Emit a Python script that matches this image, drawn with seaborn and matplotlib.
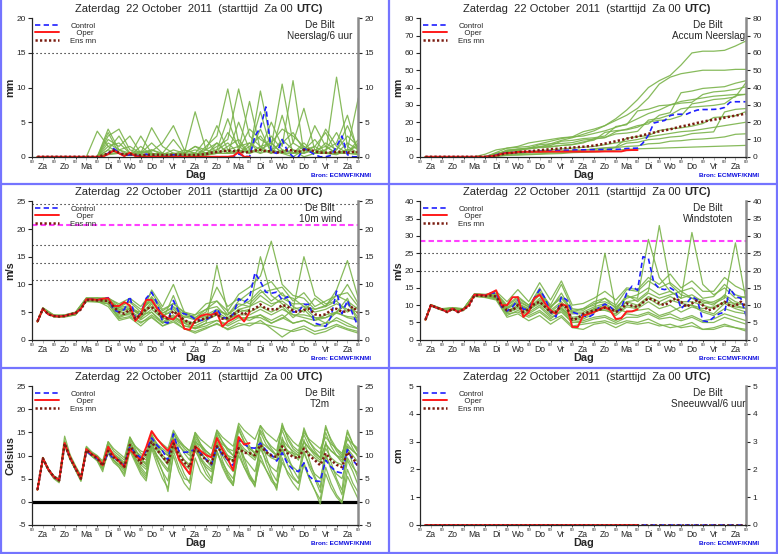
import numpy as np
import pandas as pd
import matplotlib
matplotlib.use("Agg")
import matplotlib.pyplot as plt
from matplotlib.lines import Line2D
import seaborn as sns

# ---------------- time axes (hours after Za 00 UTC) ----------------
HOURS_6 = np.arange(6, 361, 6)                                  # 60 six-hourly steps
HOURS_MEM = np.concatenate([[6], np.arange(12, 361, 12)])       # member sampling (31)
HOURS_OPER = HOURS_6[:40]                                       # operational run: 10 days
DAY_BOUNDS = np.arange(0, 361, 24)
DAY_MIDS = np.arange(12, 360, 24)
day_names = ["Za", "Zo", "Ma", "Di", "Wo", "Do", "Vr", "Za", "Zo", "Ma", "Di", "Wo", "Do", "Vr", "Za"]

# ---------------- Neerslag / 6 uur (mm) ----------------
precip_ctrl = [0, 0, 0, 0, 0, 0, 0, 0, 0, 0, 0, 0, 0,
               0.5, 1.2, 0.6, 0.1, 0.3, 0.2, 0.1, 0.4, 0.1, 0.0, 0.0, 0.1, 0.3, 0.1,
               0, 0, 0, 0, 0, 0, 0, 0, 0, 0,
               0.4, 0.1, 0.0, 3.0, 4.2, 7.2, 0.7, 0.5, 2.5, 0.8, 0.0, 0.0, 1.2, 0.8, 0.3,
               0.0, 0.0, 0.2, 1.5, 3.0, 0.3, 0.0, 0.0]
precip_oper = [0, 0, 0, 0, 0, 0, 0, 0, 0, 0, 0, 0, 0,
               0.4, 0.9, 0.5, 0.1, 0.6, 0.1,
               0, 0, 0, 0, 0, 0, 0, 0, 0, 0, 0, 0, 0, 0, 0, 0, 0,
               0.1, 0.7, 0.0, 0.0]
precip_mean = [0, 0, 0, 0, 0, 0, 0, 0, 0, 0, 0, 0,
               0.2, 0.5, 0.9, 0.6, 0.3, 0.4, 0.3, 0.2, 0.3, 0.3, 0.3, 0.25,
               0.25, 0.3, 0.3, 0.3, 0.25, 0.25, 0.3, 0.4, 0.6, 0.7, 0.8, 0.9,
               0.8, 0.9, 0.6, 0.7, 0.9, 1.0, 0.8, 0.8, 0.6, 0.7, 1.0, 0.9,
               0.7, 1.0, 1.0, 0.8, 0.6, 0.6, 0.6, 0.7, 0.7, 0.6, 0.7, 0.7]
precip_members = [
    [0, 0, 0, 0, 0, 0, 3.7, 1.5, 0.5, 0.2, 0.5, 1.0, 0.3, 0, 0, 0, 1.5, 3.0, 9.8, 2.0, 0.5, 1.0, 0.5, 2.5, 1.0, 0, 0.5, 2.0, 1.0, 3.0, 1.5],
    [0, 0, 0, 0, 0, 0, 0, 3.0, 4.0, 1.0, 0.5, 4.2, 1.5, 0.5, 0.3, 0.5, 0.5, 1.5, 2.5, 9.8, 3.0, 1.5, 2.0, 0.5, 0, 1.0, 2.5, 0.5, 0.3, 1.0, 0.5],
    [0, 0, 0, 0, 0, 0, 0, 2.5, 1.5, 3.0, 0.5, 0.8, 2.0, 4.5, 1.0, 0.5, 0.3, 0.5, 1.0, 1.5, 0.5, 9.5, 2.0, 4.0, 3.0, 1.5, 0.5, 1.0, 3.5, 0.5, 2.0],
    [0, 0, 0, 0, 0, 0, 0, 1.0, 0.5, 0.3, 0.2, 0.5, 0.2, 0.5, 0.5, 6.5, 1.0, 2.0, 0.5, 1.0, 4.0, 2.5, 1.5, 10.5, 2.0, 1.0, 0.5, 4.0, 1.5, 0.5, 0.3],
    [0, 0, 0, 0, 0, 0, 0, 4.0, 1.0, 0.2, 1.5, 0.3, 0.5, 0.2, 0.2, 0.5, 2.5, 0.5, 3.5, 1.5, 2.0, 1.0, 5.0, 1.5, 11.0, 0.5, 1.5, 0.5, 0.5, 2.0, 1.0],
    [0, 0, 0, 0, 0, 0, 0, 1.5, 2.0, 0.5, 0.8, 0.5, 0.3, 1.0, 0.5, 1.5, 1.0, 4.5, 1.0, 0.5, 1.5, 3.0, 1.0, 0.5, 2.0, 7.0, 1.0, 1.5, 0.5, 1.0, 8.5],
    [0, 0, 0, 0, 0, 0, 0, 0.5, 0.5, 0.2, 0.3, 0.2, 0.5, 0.2, 0.3, 0.2, 0.5, 0.5, 1.5, 2.5, 0.5, 1.5, 0.5, 1.0, 0.5, 1.5, 0.5, 0.5, 11.5, 1.5, 0.5],
    [0, 0, 0, 0, 0, 0, 0, 2.0, 1.0, 1.5, 0.5, 1.0, 0.5, 2.5, 0.5, 1.0, 0.5, 1.0, 5.5, 1.0, 8.0, 1.0, 2.0, 0.5, 1.0, 0.5, 4.5, 1.5, 0.5, 1.0, 1.5],
    [0, 0, 0, 0, 0, 0, 0, 3.5, 0.5, 0.2, 3.0, 0.5, 0.2, 0.3, 1.0, 0.5, 0.3, 2.0, 0.5, 1.0, 0.5, 4.0, 0.5, 6.0, 0.5, 2.0, 0.5, 1.0, 2.0, 6.0, 0.5],
    [0, 0, 0, 0, 0, 0, 0, 0.5, 1.0, 0.5, 0.2, 0.2, 0.3, 0.5, 0.2, 0.3, 1.0, 0.5, 0.5, 5.0, 1.0, 0.5, 3.0, 1.0, 0.5, 1.0, 1.5, 3.5, 0.5, 0.5, 2.5],
    [0, 0, 0, 0, 0, 0, 0, 1.0, 3.0, 0.5, 0.5, 2.0, 0.5, 0.2, 0.5, 1.5, 0.5, 1.0, 2.0, 0.5, 1.0, 6.5, 1.0, 2.0, 3.5, 1.0, 0.5, 0.5, 1.0, 4.5, 1.0],
    [0, 0, 0, 0, 0, 0, 0, 0.3, 0.5, 0.2, 0.2, 0.3, 0.2, 0.2, 0.5, 0.2, 0.2, 0.5, 0.5, 0.5, 2.0, 0.5, 1.0, 0.5, 0.5, 0.5, 1.0, 0.5, 0.5, 0.5, 0.5],
]

# ---------------- Accum Neerslag (mm) ----------------
accum_ctrl = [0, 0, 0, 0, 0, 0, 0, 0, 0, 0, 0, 0,
              0.3, 1.0, 2.0, 2.3, 2.4, 2.7, 2.8, 2.9, 3.1, 3.2, 3.3, 3.4,
              3.5, 3.7, 3.8, 3.9, 4.0, 4.0, 4.1, 4.1, 4.2, 4.2, 4.3, 4.3,
              4.4, 4.8, 4.9, 5.0, 8.0, 12.5, 19.5, 20.3, 21.0, 23.8, 24.5, 24.6,
              24.6, 26.0, 27.0, 27.3, 27.3, 27.4, 27.6, 28.5, 31.5, 31.8, 31.8, 31.8]
accum_oper = [0, 0, 0, 0, 0, 0, 0, 0, 0, 0, 0, 0,
              0.3, 0.8, 1.7, 2.2, 2.3, 2.8, 2.9, 2.9, 2.9, 2.9, 3.0, 3.0,
              3.0, 3.0, 3.0, 3.0, 3.0, 3.0, 3.0, 3.0, 3.0, 3.1, 3.1, 3.1,
              3.1, 3.8, 3.9, 3.9]
accum_mean = [0, 0, 0, 0, 0, 0, 0, 0, 0, 0, 0, 0,
              0.2, 0.6, 1.5, 2.1, 2.3, 2.7, 3.0, 3.2, 3.5, 3.8, 4.1, 4.4,
              4.6, 4.9, 5.1, 5.3, 5.6, 5.8, 6.1, 6.5, 7.0, 7.6, 8.3, 9.0,
              9.7, 10.5, 11.1, 11.7, 12.5, 13.3, 14.0, 14.7, 15.3, 15.9, 16.7, 17.5,
              18.1, 18.8, 19.6, 20.3, 20.9, 21.4, 22.0, 22.6, 23.2, 23.8, 24.4, 25.0]
accum_members = [
    [0, 0, 0, 0, 0, 0, 0, 1.5, 3.5, 4.0, 4.5, 5.5, 7.5, 9.5, 11.0, 13.0, 15.0, 18.0, 22.0, 27.0, 33.0, 40.0, 44.0, 47.0, 53.0, 60.0, 61.0, 61.0, 61.5, 64.0, 67.0],
    [0, 0, 0, 0, 0, 0, 0, 2.5, 5.0, 5.5, 6.0, 7.5, 9.0, 10.5, 11.5, 14.5, 16.0, 18.0, 21.0, 24.0, 28.0, 34.0, 42.0, 46.0, 48.0, 49.0, 50.0, 50.0, 50.0, 50.5, 50.5],
    [0, 0, 0, 0, 0, 0, 1.5, 4.0, 5.0, 6.0, 8.0, 9.0, 10.0, 11.0, 11.5, 12.0, 13.5, 15.0, 17.0, 19.0, 22.0, 25.0, 27.0, 30.0, 32.0, 33.0, 34.0, 35.0, 35.5, 36.0, 36.0],
    [0, 0, 0, 0, 0, 0, 0, 1.0, 2.0, 2.5, 3.0, 3.5, 4.0, 4.5, 5.0, 5.5, 6.0, 7.0, 8.0, 9.0, 10.0, 11.5, 12.5, 13.5, 14.5, 15.0, 16.0, 17.0, 18.0, 19.0, 20.0],
    [0, 0, 0, 0, 0, 0, 0, 2.0, 3.0, 3.5, 5.0, 5.5, 6.0, 6.5, 7.0, 8.0, 10.5, 11.0, 14.5, 16.0, 18.0, 19.0, 24.0, 25.5, 37.0, 38.0, 39.5, 40.0, 40.5, 42.5, 44.0],
    [0, 0, 0, 0, 0, 0, 0, 1.5, 3.5, 4.0, 4.8, 5.3, 5.6, 6.6, 7.1, 8.6, 9.6, 14.1, 15.1, 15.6, 17.1, 20.1, 21.1, 21.6, 23.6, 30.6, 31.6, 33.1, 33.6, 34.6, 43.1],
    [0, 0, 0, 0, 0, 0, 0, 0.5, 1.0, 1.2, 1.5, 1.7, 2.2, 2.4, 2.7, 2.9, 3.4, 3.9, 5.4, 7.9, 8.4, 9.9, 10.4, 11.4, 11.9, 13.4, 13.9, 14.4, 25.9, 27.4, 27.9],
    [0, 0, 0, 0, 0, 0, 0, 2.0, 3.0, 4.5, 5.0, 6.0, 6.5, 9.0, 9.5, 10.5, 11.0, 12.0, 17.5, 18.5, 26.5, 27.5, 29.5, 30.0, 31.0, 31.5, 36.0, 37.5, 38.0, 39.0, 40.5],
    [0, 0, 0, 0, 0, 0, 0, 1.0, 1.5, 1.7, 2.5, 2.8, 3.0, 3.3, 3.8, 4.0, 4.2, 5.0, 5.3, 6.0, 6.3, 7.5, 7.8, 9.0, 9.3, 10.0, 10.3, 10.8, 11.5, 13.0, 13.3],
    [0, 0, 0, 0, 0, 0, 0, 0.5, 1.5, 2.0, 2.2, 2.4, 2.7, 3.2, 3.4, 3.7, 4.7, 5.2, 5.7, 10.7, 11.7, 12.2, 15.2, 16.2, 16.7, 17.7, 19.2, 22.7, 23.2, 23.7, 26.2],
    [0, 0, 0, 0, 0, 0, 0, 1.0, 4.0, 4.5, 5.0, 7.0, 7.5, 7.7, 8.2, 9.7, 10.2, 11.2, 13.2, 13.7, 14.7, 21.2, 22.2, 24.2, 27.7, 28.7, 29.2, 29.7, 30.7, 35.2, 36.2],
    [0, 0, 0, 0, 0, 0, 0, 0.3, 0.8, 1.0, 1.2, 1.5, 1.7, 1.9, 2.4, 2.6, 2.8, 3.3, 3.8, 4.3, 4.6, 4.8, 5.0, 5.2, 5.4, 5.6, 5.8, 6.0, 6.2, 6.4, 6.6],
]

# ---------------- 10m wind (m/s) ----------------
wind_ctrl = [3.3, 5.6, 4.6, 4.3, 4.2, 4.3, 4.6, 4.8, 5.6, 7.3, 7.3, 7.2,
             7.4, 7.6, 5.4, 5.0, 5.5, 7.8, 3.8, 4.8, 7.5, 8.6, 6.6, 3.3,
             3.0, 7.1, 5.0, 4.7, 4.4, 3.7, 3.5, 3.6, 4.2, 5.6, 4.0, 3.9,
             4.6, 7.4, 6.8, 7.6, 12.1, 10.5, 8.6, 8.4, 8.6, 7.2, 7.8, 5.0,
             5.1, 6.4, 6.4, 3.0, 2.7, 2.4, 4.2, 8.8, 4.7, 7.1, 4.6, 2.3]
wind_oper = [3.3, 5.6, 4.6, 4.3, 4.2, 4.3, 4.6, 4.8, 5.6, 7.3, 7.3, 7.2,
             7.4, 7.5, 6.1, 6.1, 6.8, 6.2, 3.4, 4.6, 7.2, 7.2, 5.6, 4.5,
             3.9, 3.7, 4.8, 2.0, 1.8, 3.5, 4.3, 4.6, 4.5, 4.9, 2.4, 3.3,
             3.8, 4.4, 3.3, 5.0]
wind_mean = [3.3, 5.6, 4.6, 4.3, 4.2, 4.3, 4.6, 4.8, 5.5, 7.2, 7.2, 7.1,
             7.1, 7.0, 6.0, 5.0, 4.7, 5.5, 3.8, 4.5, 5.6, 5.9, 5.0, 4.2,
             3.8, 5.2, 4.3, 3.6, 3.0, 3.2, 3.6, 3.9, 4.2, 4.7, 3.8, 3.9,
             4.5, 5.2, 4.5, 5.3, 5.6, 6.4, 5.6, 5.5, 5.5, 6.3, 6.0, 5.2,
             5.0, 5.4, 5.6, 4.6, 4.4, 4.6, 5.4, 5.6, 5.0, 5.2, 6.0, 4.8]
wind_thresholds = [10.8, 13.9, 17.2, 24.5]
wind_alarm = 20.8
wind_members = [
    [3.3, 5.5, 4.4, 4.2, 4.7, 7.1, 7.5, 7.6, 6.2, 6.8, 5.0, 7.8, 5.2, 6.6, 4.8, 4.0, 5.5, 7.0, 5.2, 8.2, 9.5, 11.5, 17.8, 10.0, 8.0, 7.5, 5.5, 6.2, 8.0, 7.0, 5.5],
    [3.2, 5.7, 4.2, 4.4, 4.9, 7.5, 7.0, 6.5, 4.2, 5.0, 3.6, 5.0, 3.2, 4.5, 2.5, 2.0, 3.0, 13.5, 5.0, 4.0, 3.5, 4.5, 3.0, 3.8, 5.5, 6.0, 4.0, 3.0, 5.0, 4.0, 3.5],
    [3.3, 5.6, 4.3, 4.3, 4.8, 7.4, 7.3, 7.0, 5.5, 6.0, 4.2, 9.0, 6.0, 10.0, 5.0, 4.5, 6.5, 7.0, 4.5, 6.0, 7.0, 9.0, 7.0, 8.5, 6.0, 5.0, 7.5, 6.0, 9.0, 14.3, 7.5],
    [3.4, 5.5, 4.1, 4.2, 4.5, 7.0, 7.1, 6.8, 4.5, 4.5, 3.2, 4.0, 2.5, 3.5, 2.0, 1.5, 2.2, 2.8, 2.0, 3.0, 2.5, 3.5, 2.0, 0.5, 1.8, 2.5, 1.5, 2.0, 2.8, 2.0, 1.5],
    [3.3, 5.8, 4.5, 4.5, 5.0, 7.6, 7.6, 7.4, 5.8, 7.0, 5.5, 7.0, 4.8, 5.8, 4.0, 4.5, 5.5, 6.0, 4.0, 5.5, 6.0, 8.0, 6.5, 7.0, 5.5, 15.0, 8.0, 6.5, 7.0, 5.0, 6.0],
    [3.2, 5.6, 4.2, 4.3, 4.8, 7.2, 7.0, 7.2, 4.8, 5.2, 4.0, 5.5, 3.8, 4.0, 3.0, 2.5, 3.5, 4.5, 3.5, 5.0, 5.5, 15.0, 8.0, 6.5, 4.5, 4.0, 3.5, 4.5, 5.0, 6.5, 4.0],
    [3.3, 5.6, 4.3, 4.2, 4.7, 7.3, 7.3, 7.0, 5.0, 5.8, 4.6, 6.0, 4.2, 5.5, 3.5, 3.0, 4.0, 5.0, 3.8, 4.5, 4.5, 5.5, 4.5, 5.5, 4.5, 4.5, 4.0, 4.0, 4.8, 4.2, 4.0],
    [3.3, 5.5, 4.3, 4.4, 4.7, 7.0, 6.9, 6.5, 4.0, 4.8, 3.8, 6.5, 3.5, 8.0, 3.0, 2.0, 2.5, 3.5, 2.8, 4.0, 4.0, 4.0, 3.0, 4.0, 3.0, 3.5, 2.5, 3.0, 3.5, 2.5, 2.0],
    [3.4, 5.7, 4.4, 4.3, 4.9, 7.5, 7.4, 7.3, 5.5, 5.5, 5.0, 7.5, 4.5, 5.0, 4.2, 3.6, 4.5, 5.5, 4.5, 6.5, 6.0, 7.0, 6.0, 7.5, 6.5, 6.5, 5.0, 5.5, 6.5, 5.5, 5.0],
    [3.3, 5.6, 4.3, 4.4, 4.8, 7.3, 7.2, 6.9, 5.2, 5.5, 4.5, 5.0, 3.0, 4.2, 3.2, 3.0, 3.8, 4.5, 3.5, 5.5, 5.0, 6.0, 5.0, 6.0, 4.0, 5.5, 3.5, 4.0, 5.0, 7.5, 3.0],
    [3.2, 5.4, 4.2, 4.1, 4.5, 6.9, 6.8, 6.5, 3.8, 4.2, 3.0, 4.5, 3.0, 3.8, 2.5, 2.2, 3.0, 3.5, 2.5, 3.5, 4.0, 4.5, 3.5, 4.5, 3.0, 3.5, 2.5, 2.5, 4.0, 3.0, 2.0],
    [3.4, 5.7, 4.4, 4.3, 4.9, 7.4, 7.5, 7.2, 5.8, 6.2, 4.5, 6.8, 4.8, 6.0, 4.5, 3.8, 4.2, 5.2, 4.5, 7.0, 8.5, 9.5, 10.5, 8.0, 7.5, 6.0, 5.5, 6.0, 7.0, 10.0, 6.5],
    [3.3, 5.6, 4.3, 4.3, 4.7, 7.2, 7.2, 7.5, 6.5, 7.5, 6.0, 8.5, 5.5, 6.5, 5.0, 4.0, 5.0, 9.5, 6.0, 7.5, 6.5, 8.5, 9.0, 9.5, 7.0, 8.5, 6.0, 7.0, 8.0, 8.5, 6.0],
    [3.3, 5.5, 4.2, 4.2, 4.6, 7.1, 7.0, 6.0, 3.5, 4.0, 2.5, 4.2, 2.5, 3.2, 2.0, 1.2, 2.0, 3.0, 1.8, 2.5, 3.0, 3.0, 2.5, 2.0, 1.5, 2.0, 1.0, 1.5, 2.5, 1.8, 1.2],
]

# ---------------- Windstoten (m/s) ----------------
gust_ctrl = [5.8, 10.0, 9.3, 8.8, 8.0, 9.0, 8.0, 8.8, 10.0, 13.0, 13.0, 12.8,
             13.5, 13.5, 9.5, 8.3, 9.5, 11.5, 8.8, 9.0, 12.0, 14.5, 12.0, 8.0,
             6.6, 12.5, 11.5, 8.0, 7.5, 7.0, 6.5, 7.5, 9.5, 10.3, 9.5, 8.0,
             9.0, 13.5, 15.5, 14.3, 24.0, 23.5, 16.5, 14.8, 14.5, 15.0, 14.0, 9.0,
             10.5, 12.5, 11.5, 5.5, 5.2, 6.5, 7.5, 8.0, 14.8, 12.5, 12.0, 6.8]
gust_oper = [5.8, 10.0, 9.3, 8.8, 8.0, 9.0, 8.0, 8.8, 10.0, 13.0, 13.0, 12.8,
             13.5, 14.3, 10.0, 10.0, 12.3, 12.3, 6.6, 8.0, 12.0, 13.0, 10.5, 8.5,
             7.5, 10.3, 9.8, 3.7, 3.7, 7.0, 7.5, 8.0, 8.8, 9.5, 8.5, 6.0,
             6.2, 8.2, 8.2, 8.8]
gust_mean = [5.8, 10.0, 9.3, 8.8, 8.0, 9.0, 8.0, 8.8, 9.8, 12.8, 12.8, 12.6,
             12.8, 12.5, 10.0, 8.5, 8.5, 10.0, 8.0, 8.8, 10.3, 11.0, 9.5, 8.0,
             8.0, 10.0, 9.3, 5.8, 6.2, 7.5, 8.0, 8.5, 8.7, 9.3, 9.0, 8.0,
             8.8, 10.5, 9.8, 9.5, 10.8, 12.0, 11.5, 10.5, 10.0, 11.0, 12.0, 11.0,
             9.5, 10.5, 11.5, 10.0, 8.5, 9.0, 10.0, 11.0, 9.8, 9.8, 11.0, 9.5]
gust_thresholds = [20.0, 25.0]
gust_alarm = 28.5
gust_members = [
    [5.9, 10.2, 9.0, 9.3, 9.0, 13.2, 12.5, 13.0, 9.0, 11.0, 9.5, 13.0, 9.5, 12.0, 8.0, 9.0, 10.0, 12.0, 9.0, 12.5, 12.0, 29.0, 18.0, 14.0, 12.0, 13.0, 11.0, 10.0, 13.0, 11.0, 10.0],
    [5.7, 9.8, 8.6, 8.7, 8.5, 12.8, 12.8, 12.0, 8.0, 9.5, 8.0, 10.0, 7.0, 9.0, 5.5, 6.0, 7.5, 25.0, 9.0, 8.0, 8.5, 9.0, 7.0, 8.0, 9.5, 10.0, 8.0, 7.0, 9.0, 8.0, 7.5],
    [5.8, 10.0, 8.8, 9.0, 8.8, 13.0, 13.0, 12.8, 9.5, 10.5, 9.0, 12.0, 8.5, 11.0, 7.5, 7.5, 9.0, 10.0, 8.5, 11.0, 11.5, 14.0, 33.0, 16.0, 13.0, 12.0, 10.5, 11.0, 12.5, 10.0, 9.0],
    [5.6, 9.9, 8.7, 8.8, 8.6, 12.7, 12.6, 12.2, 7.5, 8.0, 6.5, 8.0, 5.5, 7.0, 4.0, 4.5, 5.0, 5.5, 4.5, 5.5, 5.0, 6.0, 4.5, 3.5, 4.0, 5.0, 3.0, 3.5, 4.5, 3.5, 3.0],
    [5.9, 10.1, 8.9, 9.2, 8.9, 13.3, 13.1, 13.3, 9.8, 12.0, 10.0, 14.0, 10.0, 16.0, 9.0, 8.5, 10.5, 11.0, 9.5, 12.0, 13.0, 15.0, 13.0, 14.0, 12.0, 31.0, 16.0, 13.0, 15.0, 12.0, 12.5],
    [5.8, 10.0, 8.8, 9.0, 8.8, 13.0, 12.8, 12.5, 8.5, 9.5, 8.5, 11.0, 7.5, 9.5, 6.0, 6.5, 8.0, 9.0, 7.0, 9.5, 9.0, 11.0, 9.0, 10.0, 8.0, 9.5, 8.5, 7.5, 10.5, 9.0, 8.0],
    [5.8, 10.0, 8.7, 8.9, 8.7, 12.9, 12.7, 12.3, 8.2, 10.0, 8.8, 10.5, 8.0, 9.0, 6.5, 7.0, 8.5, 8.5, 7.5, 10.0, 9.5, 12.0, 10.0, 11.5, 10.5, 10.0, 9.0, 9.5, 11.0, 9.5, 9.0],
    [5.7, 9.9, 8.6, 8.8, 8.7, 12.8, 12.5, 12.0, 7.8, 9.0, 7.5, 9.5, 6.5, 8.0, 5.0, 5.5, 6.5, 7.0, 5.5, 7.5, 7.0, 8.0, 6.5, 7.5, 6.0, 7.0, 5.5, 6.0, 7.5, 6.5, 5.5],
    [5.9, 10.1, 8.9, 9.1, 8.9, 13.2, 13.0, 13.0, 9.2, 11.5, 9.5, 15.0, 9.0, 13.5, 8.0, 8.0, 9.5, 10.5, 8.5, 13.0, 11.0, 13.5, 12.0, 13.0, 14.0, 12.0, 11.5, 10.5, 12.0, 28.0, 11.0],
    [5.8, 10.0, 8.8, 9.0, 8.8, 13.1, 12.9, 12.6, 9.0, 10.5, 8.5, 11.5, 8.0, 10.5, 6.0, 6.5, 9.0, 9.5, 8.0, 11.0, 10.0, 12.5, 11.0, 12.5, 11.0, 11.0, 10.0, 9.0, 11.0, 10.5, 10.0],
    [5.7, 9.9, 8.7, 8.8, 8.6, 12.6, 12.4, 11.8, 7.0, 8.5, 7.0, 8.5, 6.0, 8.5, 5.0, 5.0, 6.0, 6.5, 5.0, 6.5, 6.5, 7.5, 6.0, 6.5, 5.5, 6.5, 5.0, 5.0, 6.5, 5.5, 4.5],
    [5.9, 10.1, 8.9, 9.1, 8.9, 13.2, 13.1, 13.5, 10.0, 12.5, 10.0, 13.5, 9.5, 12.5, 8.5, 9.0, 11.0, 12.0, 10.0, 14.5, 14.0, 17.0, 15.0, 16.5, 14.0, 15.0, 12.0, 12.5, 16.0, 13.0, 12.0],
    [5.8, 10.0, 8.8, 9.0, 8.8, 13.0, 12.9, 14.0, 11.0, 14.5, 11.0, 16.5, 11.5, 17.0, 10.0, 10.5, 12.0, 14.0, 11.5, 15.0, 14.5, 18.0, 16.0, 19.0, 15.0, 17.0, 14.0, 14.0, 18.0, 15.5, 14.0],
    [5.6, 9.8, 8.5, 8.6, 8.4, 12.5, 12.2, 11.5, 6.5, 7.5, 5.5, 7.0, 4.5, 6.5, 3.5, 3.0, 4.5, 5.0, 3.5, 5.0, 4.5, 5.0, 4.0, 4.5, 3.5, 4.0, 3.0, 3.0, 4.0, 3.5, 2.5],
]

# ---------------- T2m (Celsius) ----------------
temp_ctrl = [2.6, 9.4, 7.0, 5.4, 4.6, 12.5, 9.5, 7.2, 5.0, 11.0, 10.0, 9.3,
             8.0, 10.6, 9.3, 9.0, 7.8, 12.0, 10.5, 9.5, 11.0, 13.8, 12.2, 11.0,
             9.0, 14.7, 11.0, 10.7, 10.8, 11.4, 10.5, 9.2, 8.0, 12.0, 10.2, 9.0,
             7.8, 13.4, 12.5, 11.7, 11.6, 12.7, 11.2, 10.2, 8.8, 10.6, 8.2, 7.0,
             6.5, 8.4, 5.5, 4.5, 4.4, 9.0, 7.5, 6.5, 6.2, 11.3, 9.0, 7.6]
temp_oper = [2.6, 9.4, 7.0, 5.4, 4.7, 12.7, 9.6, 7.3, 5.0, 11.4, 10.3, 9.6,
             7.9, 11.9, 10.0, 8.8, 7.5, 11.4, 10.0, 9.0, 11.8, 15.3, 13.6, 12.2,
             11.0, 13.3, 9.2, 7.6, 6.0, 12.0, 11.0, 10.1, 9.6, 13.8, 11.4, 9.2,
             6.8, 14.0, 12.4, 12.7]
temp_mean = [2.6, 9.4, 7.0, 5.4, 4.6, 12.6, 9.5, 7.2, 5.0, 11.2, 10.2, 9.4,
             7.8, 11.0, 9.6, 8.8, 7.6, 12.3, 10.2, 8.3, 10.5, 13.0, 11.2, 9.8,
             8.3, 12.6, 10.2, 8.5, 7.5, 11.8, 10.3, 9.0, 8.3, 12.0, 10.5, 9.2,
             8.9, 11.6, 10.6, 10.5, 10.1, 12.3, 10.8, 10.0, 9.7, 12.0, 10.5, 9.7,
             9.4, 11.5, 10.0, 9.0, 7.9, 10.5, 9.0, 8.0, 7.5, 10.7, 9.4, 7.8]
temp_members = [
    [2.7, 9.5, 7.1, 5.5, 4.8, 13.0, 9.8, 7.6, 5.4, 11.6, 10.6, 9.8,
     8.5, 13.0, 11.0, 10.0, 9.0, 13.5, 12.0, 11.0, 10.5, 15.0, 13.5, 12.5, 11.5, 15.5, 13.5, 12.0,
     11.0, 15.0, 13.5, 12.5, 11.5, 15.5, 14.0, 13.0, 12.0, 17.0, 15.5, 14.5, 13.5, 16.5, 15.0, 14.0,
     13.0, 16.0, 14.5, 13.0, 12.0, 15.0, 13.5, 12.5, 11.5, 14.0, 12.5, 11.5, 10.5, 13.5, 12.5, 11.5],
    [2.5, 9.3, 6.8, 5.2, 4.3, 12.3, 9.2, 6.9, 4.6, 10.8, 9.8, 8.9,
     7.0, 10.5, 8.5, 7.5, 5.5, 11.0, 8.5, 6.0, 4.5, 11.5, 8.0, 5.0, 3.0, 10.0, 6.5, 4.0,
     2.5, 9.5, 6.5, 5.0, 4.0, 11.0, 7.5, 5.0, 3.5, 11.0, 7.5, 5.0, 3.5, 10.0, 7.0, 4.5,
     3.0, 9.5, 6.0, 4.0, 2.5, 8.5, 5.0, 2.5, 0.5, 7.5, 4.0, 1.5, 0.0, 7.0, 4.0, 2.0],
    [2.6, 9.4, 7.0, 5.4, 4.6, 12.8, 9.6, 7.3, 5.2, 11.4, 10.4, 9.6,
     8.0, 12.0, 10.0, 9.0, 8.0, 13.0, 10.5, 8.5, 7.5, 14.0, 11.5, 9.5, 8.0, 14.0, 11.0, 9.0,
     7.5, 13.5, 11.0, 9.0, 7.5, 14.5, 12.0, 10.0, 8.5, 15.5, 13.0, 11.5, 10.5, 15.0, 12.5, 11.0,
     10.0, 17.0, 13.5, 11.5, 10.5, 14.5, 12.0, 10.5, 9.5, 16.5, 13.0, 11.0, 9.5, 15.5, 12.5, 10.5],
    [2.5, 9.3, 6.9, 5.3, 4.5, 12.4, 9.3, 7.0, 4.8, 11.0, 10.0, 9.2,
     7.5, 11.0, 9.5, 8.5, 7.0, 12.0, 9.5, 7.5, 6.0, 12.5, 10.0, 8.0, 6.5, 12.0, 9.5, 7.5,
     6.0, 12.0, 9.5, 8.0, 7.0, 12.5, 10.0, 8.0, 6.5, 12.0, 9.5, 8.0, 6.5, 11.5, 9.0, 7.5,
     6.5, 11.5, 9.0, 7.5, 6.5, 10.5, 8.0, 6.0, 5.0, 10.0, 7.5, 6.0, 5.0, 9.5, 7.5, 6.0],
    [2.7, 9.5, 7.1, 5.6, 4.9, 12.7, 9.7, 7.5, 5.6, 11.3, 10.5, 9.9,
     8.2, 11.5, 10.5, 9.5, 8.5, 12.5, 11.0, 10.0, 9.0, 13.0, 12.0, 11.0, 10.0, 13.5, 12.0, 11.0,
     10.0, 13.0, 12.0, 11.0, 10.0, 13.5, 12.5, 11.5, 10.0, 14.0, 12.5, 11.5, 10.5, 13.0, 12.0, 11.0,
     10.0, 13.5, 12.0, 11.0, 10.0, 13.0, 11.5, 10.5, 9.5, 12.5, 11.0, 10.0, 9.0, 12.0, 11.0, 10.0],
    [2.5, 9.2, 6.8, 5.0, 4.1, 12.9, 9.4, 6.8, 4.4, 11.8, 10.0, 8.8,
     6.5, 11.5, 9.0, 7.5, 6.0, 12.0, 9.0, 6.5, 5.0, 13.0, 9.5, 6.5, 4.5, 13.0, 9.0, 6.0,
     4.0, 13.0, 9.5, 7.0, 5.0, 13.0, 9.0, 6.0, 4.0, 13.5, 9.5, 6.0, 4.0, 14.0, 10.0, 6.5,
     4.5, 14.0, 10.0, 7.0, 5.0, 13.5, 9.0, 5.5, 3.0, 13.0, 8.5, 5.0, 2.5, 12.0, 8.0, 5.0],
    [2.6, 9.4, 7.0, 5.4, 4.7, 13.2, 9.9, 7.4, 5.1, 11.7, 10.5, 9.6,
     7.8, 12.5, 10.0, 9.0, 7.5, 14.0, 11.5, 9.0, 8.0, 14.5, 12.0, 10.0, 9.0, 15.0, 12.5, 10.5,
     9.0, 15.0, 12.5, 10.5, 9.5, 15.5, 13.0, 11.0, 10.0, 16.0, 13.0, 11.0, 9.5, 16.5, 13.5, 11.5,
     10.0, 15.5, 12.5, 10.5, 9.0, 16.0, 13.0, 11.0, 9.5, 15.0, 12.0, 10.0, 8.5, 14.0, 11.5, 9.5],
    [2.6, 9.3, 6.9, 5.3, 4.4, 12.2, 9.1, 7.0, 4.9, 10.9, 9.9, 9.3,
     7.6, 11.0, 9.0, 8.0, 6.5, 11.5, 9.5, 8.0, 7.0, 12.0, 10.0, 8.5, 7.0, 11.5, 9.5, 8.0,
     7.0, 11.0, 9.0, 7.5, 6.5, 10.5, 8.5, 6.5, 5.0, 10.0, 7.5, 5.5, 4.0, 9.0, 7.0, 5.0,
     3.5, 8.5, 6.5, 5.0, 4.0, 8.0, 5.0, 2.5, -0.5, 6.0, 3.0, 1.0, -0.3, 5.5, 3.0, 0.5],
    [2.6, 9.4, 7.1, 5.5, 4.7, 12.6, 9.5, 7.3, 5.2, 11.1, 10.2, 9.5,
     8.0, 12.0, 10.2, 9.2, 8.2, 12.5, 10.5, 9.0, 8.5, 13.5, 11.0, 9.5, 8.5, 12.5, 10.5, 9.0,
     8.0, 12.5, 10.5, 9.0, 8.0, 12.0, 10.5, 9.5, 9.0, 13.0, 11.5, 10.5, 9.5, 12.5, 11.0, 10.0,
     9.5, 13.0, 11.0, 10.0, 9.5, 12.0, 10.5, 9.5, 8.5, 11.5, 9.5, 8.5, 8.0, 11.5, 10.0, 8.5],
    [2.7, 9.5, 7.0, 5.4, 4.6, 12.5, 9.6, 7.4, 5.3, 11.2, 10.3, 9.7,
     7.9, 11.8, 10.0, 9.5, 8.0, 13.2, 11.0, 9.5, 8.0, 14.0, 12.5, 11.5, 10.5, 14.5, 13.0, 12.0,
     11.0, 14.0, 12.0, 10.0, 8.5, 13.0, 11.0, 10.0, 9.5, 12.5, 11.0, 10.0, 9.0, 12.0, 10.5, 9.5,
     9.0, 12.5, 11.0, 10.5, 10.0, 13.0, 11.5, 10.0, 9.0, 12.5, 11.0, 10.0, 9.5, 12.5, 11.0, 10.0],
    [2.5, 9.3, 6.9, 5.2, 4.4, 12.4, 9.3, 7.0, 4.8, 11.0, 9.9, 9.0,
     7.2, 11.5, 9.0, 8.0, 7.0, 11.5, 9.0, 7.0, 5.5, 12.0, 9.0, 6.5, 2.2, 11.0, 7.5, 5.0,
     4.5, 12.0, 8.5, 6.0, 4.5, 11.0, 8.0, 5.5, 3.5, 12.5, 8.5, 5.5, 3.2, 12.5, 8.5, 5.5,
     2.5, 11.5, 8.0, 5.5, 4.0, 11.0, 7.5, 5.0, 2.0, 10.0, 7.0, 4.5, 1.5, 9.0, 6.5, 3.5],
    [2.7, 9.6, 7.2, 5.6, 4.9, 14.2, 10.2, 7.8, 5.6, 12.0, 10.8, 10.0,
     8.8, 13.0, 11.5, 10.5, 9.5, 14.0, 12.0, 10.5, 9.5, 14.5, 12.5, 11.0, 10.0, 15.0, 13.0, 11.5,
     10.5, 14.5, 12.5, 11.0, 10.0, 15.0, 13.0, 11.5, 11.0, 16.5, 14.0, 12.0, 10.5, 15.5, 13.5, 12.0,
     11.0, 16.5, 14.0, 12.0, 11.0, 15.5, 13.0, 11.5, 10.5, 16.0, 13.5, 11.5, 10.0, 15.0, 12.5, 11.0],
]

# ---------------- Sneeuwval / 6 uur (cm) ----------------
snow_ctrl = [0, 0, 0, 0, 0, 0, 0, 0, 0, 0, 0, 0, 0, 0, 0, 0, 0, 0, 0, 0, 0, 0, 0, 0, 0, 0, 0, 0, 0, 0,
             0, 0, 0, 0, 0, 0, 0, 0, 0, 0, 0, 0, 0, 0, 0, 0, 0, 0, 0, 0, 0, 0, 0, 0, 0, 0, 0, 0, 0, 0]
snow_oper = [0, 0, 0, 0, 0, 0, 0, 0, 0, 0, 0, 0, 0, 0, 0, 0, 0, 0, 0, 0,
             0, 0, 0, 0, 0, 0, 0, 0, 0, 0, 0, 0, 0, 0, 0, 0, 0, 0, 0, 0]
snow_mean = [0, 0, 0, 0, 0, 0, 0, 0, 0, 0, 0, 0, 0, 0, 0, 0, 0, 0, 0, 0, 0, 0, 0, 0, 0, 0, 0, 0, 0, 0,
             0, 0, 0, 0, 0, 0, 0, 0, 0, 0, 0, 0, 0, 0, 0, 0, 0, 0, 0, 0, 0, 0, 0, 0, 0, 0, 0, 0, 0, 0]

precip_thresholds = [15.0]

# ---------------- styling ----------------
sns.set_style("ticks")
plt.rcParams["font.family"] = ["Liberation Sans", "DejaVu Sans"]

GREEN = "#7ab34a"
BLUE = "#1f1fff"
RED = "#ff1a1a"
BROWN = "#7a1c10"
MAGENTA = "#ff40ff"
FRAME = "#7474ff"

W_PX, H_PX = 778, 554
fig = plt.figure(figsize=(W_PX / 100, H_PX / 100), dpi=100)
fig.patch.set_facecolor("white")

COL_LEFT = [32.0, 420.0]
ROW_TOP = [18.3, 201.3, 386.3]
PLOT_W = 326.3
PLOT_H = 138.5


def make_ax(col, row):
    left = COL_LEFT[col] / W_PX
    bottom = 1 - (ROW_TOP[row] + PLOT_H) / H_PX
    return fig.add_axes([left, bottom, PLOT_W / W_PX, PLOT_H / H_PX])


def draw_panel(ax, ctrl, oper, mean, members, mem_hours, ylim, yticks, ylabel, varname,
               thresholds=(), alarm=None, zero_line=False):
    for th in thresholds:
        ax.axhline(th, color="black", lw=0.8, dashes=(1, 2.6), zorder=1)
    if alarm is not None:
        ax.axhline(alarm, color=MAGENTA, lw=1.5, dashes=(2.6, 1.5), zorder=1)
    if zero_line:
        ax.axhline(0, color="black", lw=2.3, zorder=1)

    if members:
        df = pd.DataFrame({
            "hour": np.tile(mem_hours, len(members)),
            "value": np.concatenate([np.asarray(m, dtype=float) for m in members]),
            "member": np.repeat(np.arange(len(members)), len(mem_hours)),
        })
        sns.lineplot(data=df, x="hour", y="value", units="member", estimator=None,
                     color=GREEN, linewidth=0.9, alpha=0.9, ax=ax, legend=False, sort=False)

    sns.lineplot(x=HOURS_6, y=ctrl, estimator=None, errorbar=None, color=BLUE,
                 linewidth=1.2, ax=ax, legend=False)
    l_ctrl = ax.lines[-1]
    l_ctrl.set_dashes([3.2, 2.0])
    sns.lineplot(x=HOURS_OPER, y=oper, estimator=None, errorbar=None, color=RED,
                 linewidth=1.4, ax=ax, legend=False)
    l_oper = ax.lines[-1]
    sns.lineplot(x=HOURS_6, y=mean, estimator=None, errorbar=None, color=BROWN,
                 linewidth=1.8, ax=ax, legend=False)
    l_mean = ax.lines[-1]
    l_mean.set_dashes([0.9, 0.9])

    ax.set_xlim(0, 360)
    ax.set_ylim(*ylim)
    ax.set_yticks(yticks)
    ax.set_yticklabels([str(t) for t in yticks])
    ax.tick_params(axis="y", which="major", left=True, right=True, labelleft=True,
                   labelright=True, labelsize=6, length=3, width=0.8, pad=1.5)
    for t in ax.yaxis.get_major_ticks():
        t.tick2line.set_color("#8a8a8a")

    ax.set_xticks(DAY_BOUNDS)
    ax.set_xticklabels(["00"] * len(DAY_BOUNDS), fontsize=3.2)
    ax.set_xticks(DAY_MIDS, minor=True)
    ax.set_xticklabels(day_names, minor=True, fontsize=6.2)
    ax.tick_params(axis="x", which="major", length=1.5, width=0.6, pad=0.8)
    ax.tick_params(axis="x", which="minor", length=2.5, width=0.6, color="#aaaaaa", pad=1.4)
    ax.set_xlabel("")

    ax.spines["top"].set_visible(False)
    ax.spines["right"].set_color("#8a8a8a")
    ax.spines["right"].set_linewidth(1.8)
    ax.spines["left"].set_linewidth(0.9)
    ax.spines["bottom"].set_linewidth(0.9)

    ax.set_ylabel(ylabel, fontsize=7.8, fontweight="bold")
    ax.yaxis.set_label_coords(-0.051, 0.5)

    ax.text(0.5, -0.134, "Dag", transform=ax.transAxes, ha="center", va="center",
            fontsize=7.8, fontweight="bold")
    ax.text(0.948, -0.134, "Bron: ECMWF/KNMI", transform=ax.transAxes, ha="center",
            va="center", fontsize=4.6, fontweight="bold", color="#1010e0")

    ax.text(0.80, 1.068, "Zaterdag  22 October  2011  (starttijd  Za 00", transform=ax.transAxes,
            ha="right", va="center", fontsize=8)
    ax.text(0.81, 1.068, "UTC)", transform=ax.transAxes, ha="left", va="center",
            fontsize=8, fontweight="bold")

    ax.text(0.883, 0.955, "De Bilt", transform=ax.transAxes, ha="center", va="center", fontsize=7.2)
    ax.text(0.883, 0.875, varname, transform=ax.transAxes, ha="center", va="center", fontsize=7.2)

    ax.legend([l_ctrl, l_oper, l_mean], ["Control", "   Oper", "Ens mn"], loc="upper left",
              bbox_to_anchor=(0.008, 0.972), frameon=False, fontsize=5.6, handlelength=3.2,
              handletextpad=1.4, labelspacing=0.0, borderaxespad=0, borderpad=0)


ax1 = make_ax(0, 0)
draw_panel(ax1, precip_ctrl, precip_oper, precip_mean, precip_members, HOURS_MEM,
           (0, 20), [0, 5, 10, 15, 20], "mm", "Neerslag/6 uur", thresholds=precip_thresholds)

ax2 = make_ax(1, 0)
draw_panel(ax2, accum_ctrl, accum_oper, accum_mean, accum_members, HOURS_MEM,
           (0, 80), [0, 10, 20, 30, 40, 50, 60, 70, 80], "mm", "Accum Neerslag")

ax3 = make_ax(0, 1)
draw_panel(ax3, wind_ctrl, wind_oper, wind_mean, wind_members, HOURS_MEM,
           (0, 25), [0, 5, 10, 15, 20, 25], "m/s", "10m wind",
           thresholds=wind_thresholds, alarm=wind_alarm)

ax4 = make_ax(1, 1)
draw_panel(ax4, gust_ctrl, gust_oper, gust_mean, gust_members, HOURS_MEM,
           (0, 40), [0, 5, 10, 15, 20, 25, 30, 35, 40], "m/s", "Windstoten",
           thresholds=gust_thresholds, alarm=gust_alarm)

ax5 = make_ax(0, 2)
draw_panel(ax5, temp_ctrl, temp_oper, temp_mean, temp_members, HOURS_6,
           (-5, 25), [-5, 0, 5, 10, 15, 20, 25], "Celsius", "T2m", zero_line=True)

ax6 = make_ax(1, 2)
draw_panel(ax6, snow_ctrl, snow_oper, snow_mean, [], HOURS_MEM,
           (0, 5), [0, 1, 2, 3, 4, 5], "cm", "Sneeuwval/6 uur")

# panel frames
for xs, ys in [([0.5, 0.5], [0, 1]),
               ([0, 1], [1 - 183.5 / H_PX, 1 - 183.5 / H_PX]),
               ([0, 1], [1 - 368 / H_PX, 1 - 368 / H_PX]),
               ([0.0015, 0.0015], [0, 1]),
               ([0.9985, 0.9985], [0, 1]),
               ([0, 1], [0.0015, 0.0015])]:
    fig.add_artist(Line2D(xs, ys, transform=fig.transFigure, color=FRAME, lw=1.6))

fig.savefig("out.png", dpi=100, facecolor="white")
